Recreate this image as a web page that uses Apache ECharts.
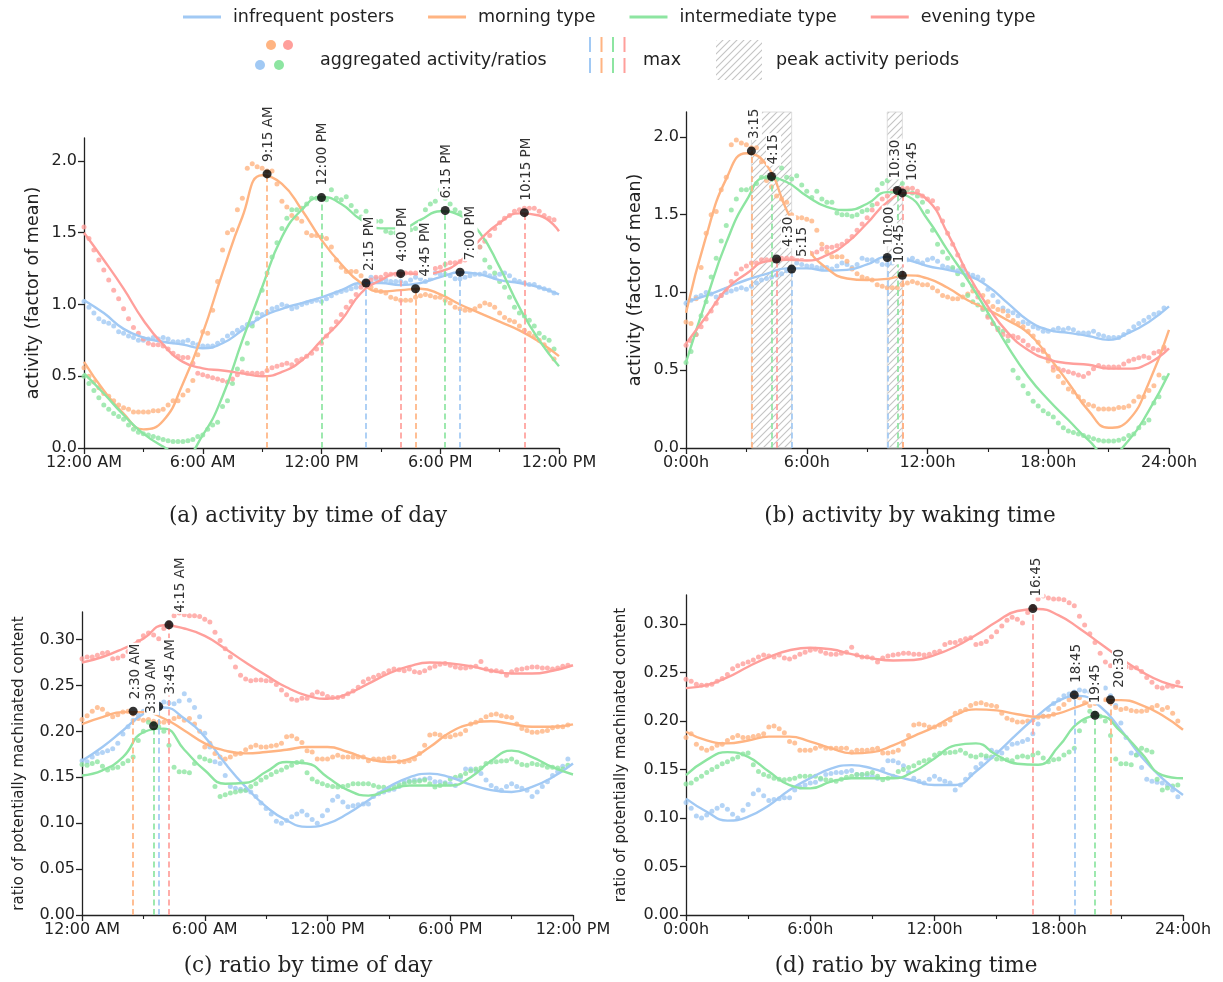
<!DOCTYPE html>
<html>
<head>
<meta charset="utf-8">
<script src="https://cdn.jsdelivr.net/npm/echarts@6/dist/echarts.min.js"></script>
<style>
  html, body { margin: 0; padding: 0; background: #fff; }
  #chart { width: 1223px; height: 982px; }
</style>
</head>
<body>
<div id="chart"></div>
<script>
// ---------- data ----------
var typeNames = ['infrequent posters', 'morning type', 'intermediate type', 'evening type'];
var todLabels = ['12:00 AM', '6:00 AM', '12:00 PM', '6:00 PM', '12:00 PM'];
var wakeLabels = ['0:00h', '6:00h', '12:00h', '18:00h', '24:00h'];
var activityTicks = [0, 0.5, 1.0, 1.5, 2.0];
var ratioTicks = [0, 0.05, 0.10, 0.15, 0.20, 0.25, 0.30];

// hours at which the fitted curves were read
var fitHours = [0,1,2,3,4,5,6,7,8,9,10,11,12,13,14,15,16,17,18,19,20,21,22,23,24];

// (a) activity by time of day - fitted curves
var aBlueFit   = [1.03,0.94,0.83,0.77,0.74,0.72,0.695,0.73,0.82,0.915,0.97,1.01,1.05,1.10,1.15,1.15,1.135,1.15,1.19,1.225,1.21,1.17,1.15,1.12,1.07];
var aOrangeFit = [0.60,0.40,0.24,0.13,0.19,0.45,0.80,1.22,1.61,1.90,1.84,1.66,1.45,1.28,1.15,1.09,1.10,1.11,1.07,1.00,0.94,0.88,0.82,0.74,0.64];
var aGreenFit  = [0.52,0.38,0.23,0.10,0.01,-0.06,0.09,0.36,0.75,1.12,1.47,1.66,1.75,1.70,1.59,1.53,1.53,1.59,1.65,1.62,1.50,1.26,0.98,0.75,0.57];
var aRedFit    = [1.50,1.31,1.11,0.89,0.72,0.60,0.555,0.54,0.52,0.50,0.53,0.61,0.75,0.89,1.08,1.17,1.22,1.21,1.23,1.30,1.45,1.57,1.635,1.62,1.51];

// (a) aggregated activity, one value per 15 minutes
var aBlueDots = [
  1.02,0.98,0.94,0.90, 0.88,0.87,0.85,0.81, 0.80,0.78,0.77,0.75, 0.75,0.76,0.77,0.76,
  0.77,0.76,0.74,0.74, 0.74,0.75,0.73,0.72, 0.71,0.71,0.71,0.73, 0.75,0.78,0.80,0.82,
  0.84,0.86,0.87,0.90, 0.93,0.95,0.97,0.98, 1.00,0.99,0.97,0.98, 1.00,1.01,1.02,1.03,
  1.02,1.04,1.06,1.08, 1.09,1.10,1.11,1.12, 1.14,1.16,1.19,1.18, 1.17,1.17,1.16,1.16,
  1.16,1.15,1.17,1.19, 1.18,1.16,1.18,1.22, 1.21,1.21,1.20,1.18, 1.18,1.19,1.20,1.21,
  1.21,1.22,1.20,1.19, 1.21,1.22,1.20,1.17, 1.16,1.15,1.14,1.14, 1.12,1.11,1.10,1.08];
var aOrangeDots = [
  0.56,0.50,0.46,0.42, 0.38,0.36,0.33,0.30, 0.28,0.27,0.25,0.25, 0.25,0.25,0.26,0.26,
  0.27,0.30,0.33,0.33, 0.37,0.40,0.47,0.65, 0.81,0.80,0.96,1.16, 1.38,1.50,1.52,1.66,
  1.74,1.95,1.98,1.96, 1.95,1.93,1.93,1.84, 1.72,1.68,1.62,1.60, 1.58,1.50,1.48,1.48,
  1.47,1.46,1.40,1.31, 1.26,1.23,1.23,1.23, 1.20,1.15,1.12,1.10, 1.09,1.08,1.05,1.04,
  1.03,1.03,1.03,1.05, 1.06,1.07,1.06,1.05, 1.05,1.03,1.01,0.98, 0.97,0.96,0.96,0.97,
  0.99,1.01,1.00,0.98, 0.94,0.91,0.89,0.88, 0.85,0.82,0.80,0.78, 0.75,0.72,0.68,0.62];
var aGreenDots = [
  0.50,0.45,0.40,0.35, 0.30,0.27,0.24,0.22, 0.20,0.16,0.13,0.11, 0.10,0.09,0.08,0.07,
  0.06,0.05,0.045,0.045, 0.045,0.05,0.06,0.08, 0.09,0.13,0.16,0.18, 0.29,0.33,0.45,0.55,
  0.62,0.73,0.85,0.94, 1.10,1.22,1.33,1.43, 1.53,1.60,1.66,1.66, 1.67,1.70,1.74,1.74,
  1.74,1.73,1.80,1.74, 1.73,1.75,1.69,1.65, 1.61,1.65,1.60,1.58, 1.58,1.51,1.50,1.50,
  1.49,1.50,1.52,1.53, 1.56,1.66,1.70,1.72, 1.80,1.74,1.70,1.66, 1.64,1.62,1.58,1.52,
  1.40,1.31,1.26,1.22, 1.16,1.12,1.05,0.98, 0.94,0.92,0.89,0.85, 0.80,0.77,0.75,0.69];
var aRedDots = [
  1.54,1.46,1.38,1.31, 1.24,1.17,1.10,1.04, 0.97,0.90,0.84,0.80, 0.76,0.73,0.72,0.72,
  0.71,0.69,0.66,0.64, 0.63,0.63,0.59,0.52, 0.51,0.50,0.49,0.48, 0.47,0.46,0.48,0.51,
  0.53,0.52,0.52,0.52, 0.52,0.54,0.56,0.57, 0.58,0.59,0.58,0.61, 0.62,0.64,0.66,0.69,
  0.73,0.78,0.83,0.88, 0.93,0.98,1.02,1.07, 1.12,1.15,1.17,1.19, 1.19,1.21,1.21,1.21,
  1.21,1.22,1.22,1.22, 1.22,1.23,1.24,1.25, 1.26,1.28,1.29,1.29, 1.30,1.31,1.33,1.36,
  1.40,1.44,1.48,1.53, 1.57,1.60,1.62,1.65, 1.66,1.67,1.67,1.67, 1.65,1.62,1.60,1.59];

// (b) activity by waking time - fitted curves
var bBlueFit   = [0.94,0.98,1.03,1.08,1.12,1.155,1.155,1.14,1.145,1.18,1.23,1.21,1.17,1.145,1.11,1.04,0.93,0.82,0.76,0.74,0.72,0.695,0.74,0.81,0.91];
var bOrangeFit = [0.87,1.36,1.73,1.895,1.82,1.53,1.29,1.155,1.09,1.08,1.087,1.11,1.09,1.03,0.95,0.89,0.82,0.74,0.59,0.42,0.24,0.13,0.18,0.42,0.76];
var bGreenFit  = [0.55,0.95,1.32,1.59,1.74,1.71,1.62,1.55,1.53,1.57,1.645,1.62,1.47,1.27,1.08,0.87,0.65,0.46,0.31,0.18,0.05,-0.05,0.05,0.24,0.48];
var bRedFit    = [0.67,0.845,1.02,1.12,1.20,1.21,1.205,1.24,1.32,1.445,1.58,1.64,1.595,1.38,1.12,0.91,0.74,0.63,0.57,0.545,0.535,0.51,0.51,0.545,0.64];

// (b) aggregated activity, one value per 15 minutes
var bBlueDots = [
  0.93,0.95,0.97,0.98, 1.00,0.99,0.97,0.98, 1.00,1.01,1.02,1.03, 1.02,1.04,1.06,1.08,
  1.09,1.10,1.11,1.12, 1.14,1.16,1.19,1.18, 1.17,1.17,1.16,1.16, 1.16,1.15,1.17,1.19,
  1.18,1.16,1.18,1.22, 1.21,1.21,1.20,1.18, 1.18,1.19,1.20,1.21, 1.21,1.22,1.20,1.19,
  1.21,1.22,1.20,1.17, 1.16,1.15,1.14,1.14, 1.12,1.11,1.10,1.08, 1.02,0.98,0.94,0.90,
  0.88,0.87,0.85,0.81, 0.80,0.78,0.77,0.75, 0.75,0.76,0.77,0.76, 0.77,0.76,0.74,0.74,
  0.74,0.75,0.73,0.72, 0.71,0.71,0.71,0.73, 0.75,0.78,0.80,0.82, 0.84,0.86,0.87,0.90];
var bOrangeDots = [
  0.81,0.80,0.96,1.16, 1.38,1.50,1.52,1.66, 1.74,1.95,1.98,1.96, 1.95,1.93,1.93,1.84,
  1.72,1.68,1.62,1.60, 1.58,1.50,1.48,1.48, 1.47,1.46,1.40,1.31, 1.26,1.23,1.23,1.23,
  1.20,1.15,1.12,1.10, 1.09,1.08,1.05,1.04, 1.03,1.03,1.03,1.05, 1.06,1.07,1.06,1.05,
  1.05,1.03,1.01,0.98, 0.97,0.96,0.96,0.97, 0.99,1.01,1.00,0.98, 0.94,0.91,0.89,0.88,
  0.85,0.82,0.80,0.78, 0.75,0.72,0.68,0.62, 0.56,0.50,0.46,0.42, 0.38,0.36,0.33,0.30,
  0.28,0.27,0.25,0.25, 0.25,0.25,0.26,0.26, 0.27,0.30,0.33,0.33, 0.37,0.40,0.47,0.65];
var bGreenDots = [
  0.55,0.62,0.73,0.85, 0.94,1.10,1.22,1.33, 1.43,1.53,1.60,1.66, 1.66,1.67,1.70,1.74,
  1.74,1.74,1.73,1.80, 1.74,1.73,1.75,1.69, 1.65,1.61,1.65,1.60, 1.58,1.58,1.51,1.50,
  1.50,1.49,1.50,1.52, 1.53,1.56,1.66,1.70, 1.72,1.80,1.74,1.70, 1.66,1.64,1.62,1.58,
  1.52,1.40,1.31,1.26, 1.22,1.16,1.12,1.05, 0.98,0.94,0.92,0.89, 0.85,0.80,0.77,0.75,
  0.69,0.50,0.45,0.40, 0.35,0.30,0.27,0.24, 0.22,0.20,0.16,0.13, 0.11,0.10,0.09,0.08,
  0.07,0.06,0.05,0.045, 0.045,0.045,0.05,0.06, 0.08,0.09,0.13,0.16, 0.18,0.29,0.33,0.45];
var bRedDots = [
  0.66,0.69,0.73,0.78, 0.83,0.88,0.93,0.98, 1.02,1.07,1.12,1.15, 1.17,1.19,1.19,1.21,
  1.21,1.21,1.21,1.22, 1.22,1.22,1.22,1.23, 1.24,1.25,1.26,1.28, 1.29,1.29,1.30,1.31,
  1.33,1.36,1.40,1.44, 1.48,1.53,1.57,1.60, 1.62,1.65,1.66,1.67, 1.67,1.67,1.65,1.62,
  1.60,1.59,1.54,1.46, 1.38,1.31,1.24,1.17, 1.10,1.04,0.97,0.90, 0.84,0.80,0.76,0.73,
  0.72,0.72,0.71,0.69, 0.66,0.64,0.63,0.63, 0.59,0.52,0.51,0.50, 0.49,0.48,0.47,0.46,
  0.48,0.51,0.53,0.52, 0.52,0.52,0.52,0.54, 0.56,0.57,0.58,0.59, 0.58,0.61,0.62,0.64];

// (c) ratio by time of day - fitted curves
var cBlueFit   = [0.168,0.183,0.201,0.219,0.226,0.214,0.194,0.165,0.1395,0.118,0.103,0.096,0.0996,0.1105,0.125,0.1395,0.150,0.154,0.150,0.142,0.136,0.134,0.1395,0.150,0.165];
var cOrangeFit = [0.208,0.2155,0.221,0.221,0.214,0.201,0.187,0.179,0.176,0.1775,0.180,0.183,0.183,0.1775,0.170,0.1667,0.170,0.183,0.199,0.208,0.211,0.208,0.205,0.205,0.2076];
var cGreenFit  = [0.152,0.1576,0.172,0.199,0.203,0.180,0.1576,0.143,0.144,0.156,0.1667,0.165,0.150,0.136,0.130,0.136,0.141,0.141,0.141,0.150,0.168,0.179,0.172,0.161,0.153];
var cRedFit    = [0.275,0.281,0.290,0.301,0.3155,0.312,0.304,0.290,0.275,0.261,0.248,0.239,0.2355,0.241,0.252,0.263,0.271,0.275,0.274,0.271,0.266,0.263,0.263,0.266,0.272];

// (c) aggregated ratios, one value per 15 minutes
var cBlueDots = [
  0.168,0.167,0.172,0.176, 0.177,0.179,0.181,0.187, 0.197,0.205,0.212,0.218, 0.222,0.226,0.228,0.230,
  0.232,0.231,0.230,0.233, 0.241,0.234,0.226,0.216, 0.198,0.183,0.167,0.165, 0.152,0.140,0.138,0.137,
  0.136,0.134,0.129,0.122, 0.116,0.110,0.102,0.100, 0.103,0.107,0.110,0.113, 0.109,0.104,0.100,0.108,
  0.114,0.125,0.129,0.123, 0.118,0.119,0.120,0.121, 0.121,0.129,0.132,0.134, 0.136,0.137,0.140,0.145,
  0.146,0.147,0.147,0.148, 0.149,0.145,0.145,0.144, 0.143,0.141,0.150,0.159, 0.159,0.157,0.154,0.147,
  0.141,0.138,0.136,0.140, 0.143,0.140,0.138,0.136, 0.129,0.134,0.140,0.145, 0.152,0.156,0.162,0.170];
var cOrangeDots = [
  0.213,0.217,0.222,0.226, 0.224,0.219,0.216,0.218, 0.221,0.222,0.219,0.214, 0.212,0.213,0.211,0.210,
  0.210,0.211,0.214,0.216, 0.212,0.214,0.208,0.200, 0.183,0.187,0.176,0.172, 0.170,0.172,0.175,0.176,
  0.180,0.183,0.185,0.183, 0.183,0.184,0.185,0.187, 0.194,0.195,0.192,0.188, 0.179,0.1775,0.170,0.170,
  0.170,0.172,0.174,0.172, 0.172,0.172,0.172,0.172, 0.168,0.170,0.170,0.170, 0.171,0.172,0.167,0.167,
  0.168,0.170,0.176,0.185, 0.196,0.197,0.196,0.194, 0.194,0.196,0.197,0.201, 0.208,0.210,0.212,0.216,
  0.218,0.219,0.217,0.216, 0.215,0.208,0.203,0.201, 0.199,0.199,0.200,0.201, 0.204,0.205,0.205,0.207];
var cGreenDots = [
  0.164,0.163,0.165,0.167, 0.162,0.158,0.160,0.161, 0.165,0.168,0.172,0.190, 0.200,0.210,0.208,0.205,
  0.200,0.185,0.161,0.156, 0.156,0.155,0.165,0.172, 0.170,0.168,0.140,0.129, 0.131,0.133,0.134,0.135,
  0.136,0.140,0.143,0.147, 0.150,0.153,0.156,0.158, 0.161,0.163,0.166,0.167, 0.155,0.148,0.145,0.143,
  0.141,0.140,0.1395,0.140, 0.141,0.143,0.143,0.143, 0.143,0.141,0.1395,0.139, 0.138,0.140,0.142,0.143,
  0.145,0.145,0.146,0.147, 0.143,0.1395,0.141,0.143, 0.148,0.150,0.152,0.154, 0.157,0.159,0.160,0.165,
  0.1667,0.167,0.1677,0.168, 0.170,0.1667,0.164,0.163, 0.165,0.164,0.163,0.161, 0.161,0.160,0.159,0.163];
var cRedDots = [
  0.279,0.281,0.281,0.283, 0.285,0.286,0.279,0.280, 0.282,0.287,0.292,0.298, 0.304,0.307,0.305,0.301,
  0.312,0.318,0.326,0.329, 0.327,0.326,0.326,0.325, 0.322,0.319,0.308,0.299, 0.290,0.281,0.270,0.261,
  0.257,0.255,0.256,0.256, 0.255,0.255,0.251,0.245, 0.240,0.235,0.234,0.236, 0.236,0.240,0.243,0.241,
  0.238,0.237,0.237,0.238, 0.241,0.244,0.248,0.254, 0.257,0.259,0.261,0.263, 0.266,0.268,0.267,0.266,
  0.268,0.265,0.264,0.266, 0.269,0.271,0.273,0.274, 0.272,0.270,0.269,0.269, 0.270,0.271,0.276,0.268,
  0.266,0.266,0.265,0.261, 0.265,0.267,0.268,0.269, 0.270,0.270,0.269,0.269, 0.268,0.269,0.271,0.272];

// (d) ratio by waking time - fitted curves
var dBlueFit   = [0.120,0.1065,0.0973,0.1014,0.113,0.129,0.141,0.151,0.1546,0.151,0.144,0.1385,0.134,0.134,0.148,0.1667,0.187,0.206,0.221,0.226,0.215,0.191,0.163,0.141,0.1237];
var dOrangeFit = [0.189,0.180,0.177,0.180,0.184,0.184,0.1787,0.172,0.1667,0.168,0.175,0.1845,0.194,0.206,0.212,0.211,0.207,0.2045,0.208,0.2155,0.2216,0.2216,0.2165,0.206,0.191];
var dGreenFit  = [0.1443,0.160,0.168,0.163,0.148,0.134,0.1306,0.1375,0.141,0.141,0.141,0.148,0.1615,0.175,0.177,0.165,0.156,0.155,0.174,0.199,0.205,0.189,0.1667,0.1443,0.141];
var dRedFit    = [0.234,0.237,0.245,0.256,0.266,0.273,0.2756,0.274,0.269,0.2646,0.2625,0.263,0.268,0.2766,0.2887,0.3024,0.3135,0.3155,0.309,0.2955,0.280,0.2646,0.251,0.2405,0.2347];

// (d) aggregated ratios, one value per 15 minutes
var dBlueDots = [
  0.116,0.110,0.102,0.100, 0.103,0.107,0.110,0.113, 0.109,0.104,0.100,0.108, 0.114,0.125,0.129,0.123,
  0.118,0.119,0.120,0.121, 0.121,0.129,0.132,0.134, 0.136,0.137,0.140,0.145, 0.146,0.147,0.147,0.148,
  0.149,0.145,0.145,0.144, 0.143,0.141,0.150,0.159, 0.159,0.157,0.154,0.147, 0.141,0.138,0.136,0.140,
  0.143,0.140,0.138,0.136, 0.129,0.134,0.140,0.145, 0.152,0.156,0.162,0.170, 0.168,0.167,0.172,0.176,
  0.177,0.179,0.181,0.187, 0.197,0.205,0.212,0.218, 0.222,0.226,0.228,0.230, 0.232,0.231,0.230,0.233,
  0.241,0.234,0.226,0.216, 0.198,0.183,0.167,0.165, 0.152,0.140,0.138,0.137, 0.136,0.134,0.129,0.122];
var dOrangeDots = [
  0.183,0.187,0.176,0.172, 0.170,0.172,0.175,0.176, 0.180,0.183,0.185,0.183, 0.183,0.184,0.185,0.187,
  0.194,0.195,0.192,0.188, 0.179,0.1775,0.170,0.170, 0.170,0.172,0.174,0.172, 0.172,0.172,0.172,0.172,
  0.168,0.170,0.170,0.170, 0.171,0.172,0.167,0.167, 0.168,0.170,0.176,0.185, 0.196,0.197,0.196,0.194,
  0.194,0.196,0.197,0.201, 0.208,0.210,0.212,0.216, 0.218,0.219,0.217,0.216, 0.215,0.208,0.203,0.201,
  0.199,0.199,0.200,0.201, 0.204,0.205,0.205,0.207, 0.213,0.217,0.222,0.226, 0.224,0.219,0.216,0.218,
  0.221,0.222,0.219,0.214, 0.212,0.213,0.211,0.210, 0.210,0.211,0.214,0.216, 0.212,0.214,0.208,0.200];
var dGreenDots = [
  0.135,0.136,0.140,0.143, 0.147,0.150,0.153,0.156, 0.158,0.161,0.163,0.166, 0.167,0.155,0.148,0.145,
  0.143,0.141,0.140,0.1395, 0.140,0.141,0.143,0.143, 0.143,0.143,0.141,0.1395, 0.139,0.138,0.140,0.142,
  0.143,0.145,0.145,0.146, 0.147,0.143,0.1395,0.141, 0.143,0.148,0.150,0.152, 0.154,0.157,0.159,0.160,
  0.165,0.1667,0.167,0.1677, 0.168,0.170,0.1667,0.164, 0.163,0.165,0.164,0.163, 0.161,0.161,0.160,0.159,
  0.163,0.164,0.163,0.165, 0.167,0.162,0.158,0.160, 0.161,0.165,0.168,0.172, 0.190,0.200,0.210,0.208,
  0.205,0.200,0.185,0.161, 0.156,0.156,0.155,0.165, 0.172,0.170,0.168,0.140, 0.129,0.131,0.133,0.134];
var dRedDots = [
  0.243,0.241,0.238,0.237, 0.237,0.238,0.241,0.244, 0.248,0.254,0.257,0.259, 0.261,0.263,0.266,0.268,
  0.267,0.266,0.268,0.265, 0.264,0.266,0.269,0.271, 0.273,0.274,0.272,0.270, 0.269,0.269,0.270,0.271,
  0.276,0.268,0.266,0.266, 0.265,0.261,0.265,0.267, 0.268,0.269,0.270,0.270, 0.269,0.269,0.268,0.269,
  0.271,0.272,0.279,0.281, 0.281,0.283,0.285,0.286, 0.279,0.280,0.282,0.287, 0.292,0.298,0.304,0.307,
  0.305,0.301,0.312,0.318, 0.326,0.329,0.327,0.326, 0.326,0.325,0.322,0.319, 0.308,0.299,0.290,0.281,
  0.270,0.261,0.257,0.255, 0.256,0.256,0.255,0.255, 0.251,0.245,0.240,0.235, 0.234,0.236,0.236,0.240];

// maxima of the fitted curves: hour, value, label, type index
var aMaxHours  = [9.25, 12, 14.25, 16, 16.75, 18.25, 19, 22.25];
var aMaxValues = [1.91, 1.745, 1.15, 1.215, 1.11, 1.655, 1.225, 1.64];
var aMaxLabels = ['9:15 AM', '12:00 PM', '2:15 PM', '4:00 PM', '4:45 PM', '6:15 PM', '7:00 PM', '10:15 PM'];
var aMaxType   = [1, 2, 0, 3, 1, 2, 0, 3];

var bMaxHours  = [3.25, 4.25, 4.5, 5.25, 10, 10.5, 10.75, 10.75];
var bMaxValues = [1.91, 1.745, 1.215, 1.15, 1.225, 1.655, 1.64, 1.11];
var bMaxLabels = ['3:15', '4:15', '4:30', '5:15', '10:00', '10:30', '10:45', '10:45'];
var bMaxType   = [1, 2, 3, 0, 0, 2, 3, 1];

var cMaxHours  = [2.5, 3.5, 3.75, 4.25];
var cMaxValues = [0.222, 0.206, 0.227, 0.316];
var cMaxLabels = ['2:30 AM', '3:30 AM', '3:45 AM', '4:15 AM'];
var cMaxType   = [1, 2, 0, 3];

var dMaxHours  = [16.75, 18.75, 19.75, 20.5];
var dMaxValues = [0.316, 0.227, 0.206, 0.222];
var dMaxLabels = ['16:45', '18:45', '19:45', '20:30'];
var dMaxType   = [3, 0, 2, 1];

// peak activity periods in (b), waking hours
var bPeakPeriods = [[3.25, 5.25], [10, 10.75]];

// ---------- styling ----------
var COLORS = ['#a1c9f4', '#ffb482', '#8de5a1', '#ff9f9b'];
var INK = '#222';
var GRIDS = [
  { left: 84,  top: 138, width: 475, height: 310 },
  { left: 686, top: 112, width: 483, height: 336 },
  { left: 82,  top: 612, width: 491, height: 303 },
  { left: 686, top: 595, width: 497, height: 320 }
];
// sideways nudge (px, to the right) for the rotated max labels
var labelShift = [
  [1, 1, 3, 2, 10, 1, 10, 2],
  [3, 2, 12, 11, 2, -2, 10, -3],
  [2, -2, 12, 12],
  [4, 2, 1, 9]
];

// diagonal hatch used for the peak periods
var hatchCanvas = document.createElement('canvas');
hatchCanvas.width = 7;
hatchCanvas.height = 7;
var hctx = hatchCanvas.getContext('2d');
hctx.strokeStyle = '#c4c4c4';
hctx.lineWidth = 1.1;
hctx.beginPath();
hctx.moveTo(0, 7); hctx.lineTo(7, 0);
hctx.moveTo(-1, 1); hctx.lineTo(1, -1);
hctx.moveTo(6, 8); hctx.lineTo(8, 6);
hctx.stroke();
var hatch = { image: hatchCanvas, repeat: 'repeat' };

function xAxis(idx, labels) {
  return {
    type: 'value', gridIndex: idx, min: 0, max: 24, interval: 6,
    axisLine: { show: true, onZero: false, lineStyle: { color: INK, width: 1.3 } },
    axisTick: { show: true, length: 6, lineStyle: { color: INK, width: 1.3 } },
    minorTick: { show: true, splitNumber: 2, length: 4, lineStyle: { color: INK, width: 1.1 } },
    splitLine: { show: false },
    minorSplitLine: { show: false },
    axisLabel: {
      color: INK, fontSize: 16, fontFamily: 'DejaVu Sans', margin: 7,
      formatter: function (v) { return labels[Math.round(v / 6)]; }
    }
  };
}

function yAxis(idx, max, ticks, digits, name, nameSize, nameGap) {
  return {
    type: 'value', gridIndex: idx, min: 0, max: max,
    name: name, nameLocation: 'middle', nameGap: nameGap,
    nameTextStyle: { color: INK, fontSize: nameSize, fontFamily: 'DejaVu Sans' },
    axisLine: { show: true, onZero: false, lineStyle: { color: INK, width: 1.3 } },
    axisTick: { show: true, length: 6, customValues: ticks, lineStyle: { color: INK, width: 1.3 } },
    splitLine: { show: false },
    axisLabel: {
      customValues: ticks, color: INK, fontSize: 16, fontFamily: 'DejaVu Sans', margin: 7,
      formatter: function (v) { return v.toFixed(digits); }
    }
  };
}

function fitSeries(idx, type, vals) {
  return {
    type: 'line', name: typeNames[type], xAxisIndex: idx, yAxisIndex: idx,
    data: vals.map(function (v, i) { return [fitHours[i], v]; }),
    smooth: 0.5, showSymbol: false, symbol: 'none', clip: true, silent: true, z: 3,
    lineStyle: { color: COLORS[type], width: 2.4 },
    itemStyle: { color: COLORS[type] }
  };
}

function dotSeries(idx, type, vals) {
  return {
    type: 'scatter', xAxisIndex: idx, yAxisIndex: idx, silent: true, z: 2,
    data: vals.map(function (v, i) { return [i / 4, v]; }),
    symbolSize: 5, itemStyle: { color: COLORS[type] }
  };
}

function maxSeries(idx, hoursArr, vals, types, peaks) {
  var s = {
    type: 'scatter', xAxisIndex: idx, yAxisIndex: idx, silent: true, z: 10,
    symbolSize: 9, itemStyle: { color: '#000' },
    data: hoursArr.map(function (h, i) { return [h, vals[i]]; }),
    markLine: {
      silent: true, symbol: ['none', 'none'], animation: false,
      label: { show: false },
      data: hoursArr.map(function (h, i) {
        return [
          { coord: [h, 0], lineStyle: { color: COLORS[types[i]], type: [6, 3.5], width: 1.7 } },
          { coord: [h, vals[i]] }
        ];
      })
    }
  };
  if (peaks) {
    s.markArea = {
      silent: true, animation: false,
      itemStyle: { color: hatch, borderColor: '#d6d6d6', borderWidth: 0.8 },
      data: peaks.map(function (p) { return [{ xAxis: p[0] }, { xAxis: p[1] }]; })
    };
  }
  return s;
}

var panels = [
  { fits: [aBlueFit, aOrangeFit, aGreenFit, aRedFit], dots: [aBlueDots, aOrangeDots, aGreenDots, aRedDots],
    max: [aMaxHours, aMaxValues, aMaxLabels, aMaxType] },
  { fits: [bBlueFit, bOrangeFit, bGreenFit, bRedFit], dots: [bBlueDots, bOrangeDots, bGreenDots, bRedDots],
    max: [bMaxHours, bMaxValues, bMaxLabels, bMaxType], peaks: bPeakPeriods },
  { fits: [cBlueFit, cOrangeFit, cGreenFit, cRedFit], dots: [cBlueDots, cOrangeDots, cGreenDots, cRedDots],
    max: [cMaxHours, cMaxValues, cMaxLabels, cMaxType] },
  { fits: [dBlueFit, dOrangeFit, dGreenFit, dRedFit], dots: [dBlueDots, dOrangeDots, dGreenDots, dRedDots],
    max: [dMaxHours, dMaxValues, dMaxLabels, dMaxType] }
];

var series = [];
panels.forEach(function (p, idx) {
  for (var t = 0; t < 4; t++) series.push(dotSeries(idx, t, p.dots[t]));
  for (var t2 = 0; t2 < 4; t2++) series.push(fitSeries(idx, t2, p.fits[t2]));
  series.push(maxSeries(idx, p.max[0], p.max[1], p.max[3], p.peaks));
});

function txt(text, x, y, size, family, align) {
  return {
    type: 'text', x: x, y: y, silent: true,
    style: { text: text, fill: INK, fontSize: size, fontFamily: family, align: align || 'left', verticalAlign: 'middle' }
  };
}

var graphic = [
  // second legend row
  { type: 'circle', shape: { cx: 271, cy: 45, r: 5 }, style: { fill: COLORS[1] }, silent: true },
  { type: 'circle', shape: { cx: 288, cy: 45, r: 5 }, style: { fill: COLORS[3] }, silent: true },
  { type: 'circle', shape: { cx: 260, cy: 65, r: 5 }, style: { fill: COLORS[0] }, silent: true },
  { type: 'circle', shape: { cx: 279, cy: 65, r: 5 }, style: { fill: COLORS[2] }, silent: true },
  txt('aggregated activity/ratios', 320, 60, 17.5, 'DejaVu Sans'),
  { type: 'line', shape: { x1: 590, y1: 37, x2: 590, y2: 74 }, style: { stroke: COLORS[0], lineWidth: 2, lineDash: [15, 6] }, silent: true },
  { type: 'line', shape: { x1: 601.5, y1: 37, x2: 601.5, y2: 74 }, style: { stroke: COLORS[1], lineWidth: 2, lineDash: [15, 6] }, silent: true },
  { type: 'line', shape: { x1: 613, y1: 37, x2: 613, y2: 74 }, style: { stroke: COLORS[2], lineWidth: 2, lineDash: [15, 6] }, silent: true },
  { type: 'line', shape: { x1: 624.5, y1: 37, x2: 624.5, y2: 74 }, style: { stroke: COLORS[3], lineWidth: 2, lineDash: [15, 6] }, silent: true },
  txt('max', 643, 60, 17.5, 'DejaVu Sans'),
  { type: 'rect', shape: { x: 716, y: 40, width: 46, height: 40 }, style: { fill: hatch }, silent: true },
  txt('peak activity periods', 776, 60, 17.5, 'DejaVu Sans'),
  // panel captions
  txt('(a) activity by time of day', 308, 516, 21.5, 'DejaVu Serif', 'center'),
  txt('(b) activity by waking time', 910, 516, 21.5, 'DejaVu Serif', 'center'),
  txt('(c) ratio by time of day', 308, 966, 21.5, 'DejaVu Serif', 'center'),
  txt('(d) ratio by waking time', 906, 966, 21.5, 'DejaVu Serif', 'center')
];

var chart = echarts.init(document.getElementById('chart'), null, { renderer: 'canvas' });
chart.setOption({
  backgroundColor: '#fff',
  animation: false,
  grid: GRIDS.map(function (g) {
    return { left: g.left, top: g.top, width: g.width, height: g.height, outerBoundsMode: 'none', containLabel: false };
  }),
  legend: {
    left: 178, top: 3, icon: 'rect', itemWidth: 38, itemHeight: 3, itemGap: 34,
    selectedMode: false, data: typeNames,
    textStyle: { color: INK, fontSize: 17.5, fontFamily: 'DejaVu Sans', padding: [0, 0, 0, 7] }
  },
  xAxis: [xAxis(0, todLabels), xAxis(1, wakeLabels), xAxis(2, todLabels), xAxis(3, wakeLabels)],
  yAxis: [
    yAxis(0, 2.16, activityTicks, 1, 'activity (factor of mean)', 17.5, 42),
    yAxis(1, 2.16, activityTicks, 1, 'activity (factor of mean)', 17.5, 42),
    yAxis(2, 0.33, ratioTicks, 2, 'ratio of potentially machinated content', 15, 55),
    yAxis(3, 0.33, ratioTicks, 2, 'ratio of potentially machinated content', 15, 57)
  ],
  series: series
});

// rotated time labels above each maximum, placed from the axis scales
panels.forEach(function (p, idx) {
  p.max[0].forEach(function (h, i) {
    var pt = chart.convertToPixel({ gridIndex: idx }, [h, p.max[1][i]]);
    graphic.push({
      type: 'text', silent: true, z: 100,
      x: pt[0] + labelShift[idx][i], y: pt[1] - 11, rotation: Math.PI / 2,
      style: {
        text: p.max[2][i], fill: '#333', fontSize: 13.5, fontFamily: 'DejaVu Sans',
        align: 'left', verticalAlign: 'middle', backgroundColor: '#fff', padding: [1, 1, 0, 1]
      }
    });
  });
});
chart.setOption({ graphic: graphic });
</script>
</body>
</html>
